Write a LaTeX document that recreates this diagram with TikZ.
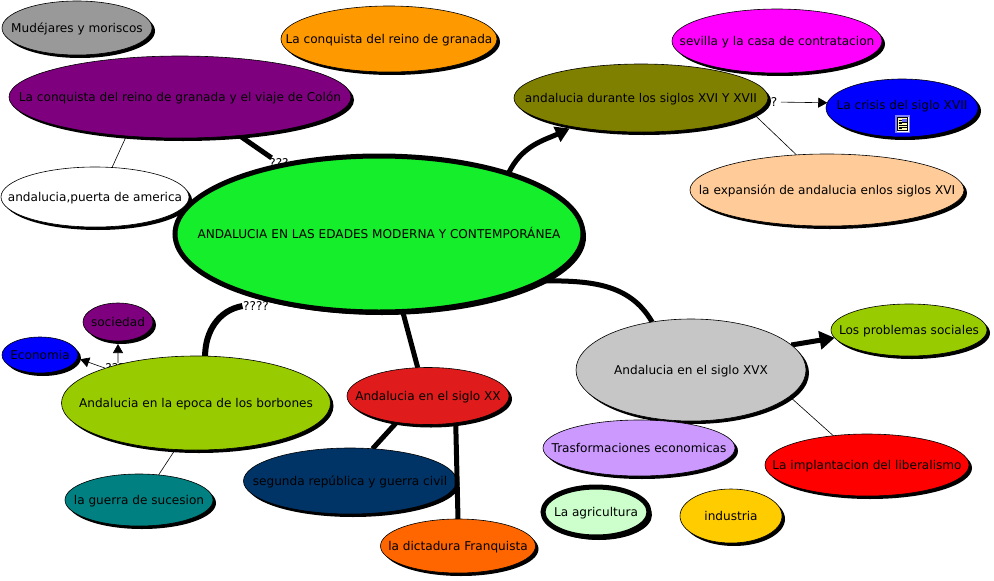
\documentclass[tikz,border=0pt]{standalone}
\usepackage{fontspec}
\setmainfont{DejaVu Sans}
\usetikzlibrary{shapes.geometric, shadows, backgrounds}
\usetikzlibrary{arrows.meta}
\definecolor{verdeC}{HTML}{15EE2A}
\definecolor{morado}{HTML}{7F007F}
\definecolor{oliva}{HTML}{7F7F00}
\definecolor{lima}{HTML}{99CC00}
\definecolor{petroleo}{HTML}{008080}
\definecolor{marino}{HTML}{003366}
\definecolor{salmon}{HTML}{FFCC99}
\definecolor{lila}{HTML}{CC99FF}
\definecolor{menta}{HTML}{CCFFCC}
\definecolor{rojoXX}{HTML}{E01B1B}
\definecolor{naranja}{HTML}{FF9900}
\definecolor{naranjaF}{HTML}{FF6600}
\definecolor{fucsia}{HTML}{FF00FF}
\definecolor{azul}{HTML}{0000FF}
\definecolor{gris}{HTML}{999999}
\definecolor{grisC}{HTML}{C6C6C6}
\definecolor{ambar}{HTML}{FFCC00}
\newcommand{\rotulo}[2][4pt]{\makebox[0pt]{\smash{\raisebox{-#1}{#2}}}}
\tikzset{
  tema/.style={ellipse,draw=black,line width=0.6pt,inner sep=0pt,outer sep=0pt,text=black,font=\fontsize{12.1}{14}\selectfont,
    general shadow={fill=black,shadow xshift=3pt,shadow yshift=-3pt}},
  tam/.style 2 args={minimum width=#1pt,minimum height=#2pt},
  rama/.style={line width=5pt,black},
  fina/.style={line width=0.6pt,black},
  punta/.style={-{Triangle[length=9pt,width=10pt]}},
  puntagrande/.style={-{Triangle[length=15pt,width=18pt]}},
  preg/.style={fill=white,inner sep=0.5pt,font=\fontsize{12.1}{14}\selectfont}
}
\begin{document}
\begin{tikzpicture}[x=1pt,y=-1pt]
\useasboundingbox (0,0) rectangle (994,581);
\node[tema,fill=gris,tam={150}{54}] (mudejares) at (77,28) {\rotulo{Mudéjares y moriscos}};
\node[tema,fill=naranja,tam={216}{66}] (granada) at (389,39) {\rotulo{La conquista del reino de granada}};
\node[tema,fill=morado,tam={342}{82}] (colon) at (180,97) {\rotulo{La conquista del reino de granada y el viaje de Colón}};
\node[tema,fill=white,tam={188}{60}] (america) at (95,197) {\rotulo{andalucia,puerta de america}};
\node[tema,fill=verdeC,line width=5pt,tam={408}{156}] (central) at (379,234) {\rotulo{ANDALUCIA EN LAS EDADES MODERNA Y CONTEMPORÁNEA}};
\node[tema,fill=fucsia,tam={210}{64}] (sevilla) at (777,41) {\rotulo{sevilla y la casa de contratacion}};
\node[tema,fill=oliva,tam={254}{68}] (siglos) at (641,98) {\rotulo{andalucia durante los siglos XVI Y XVII}};
\node[tema,fill=azul,tam={152}{58}] (crisis) at (902,108) {\rotulo[1pt]{La crisis del siglo XVII}};
\node[tema,fill=salmon,tam={274}{72}] (expansion) at (827,190) {\rotulo{la expansión de andalucia enlos siglos XVI}};
\node[tema,fill=morado,tam={70}{38}] (sociedad) at (118,322) {\rotulo{sociedad}};
\node[tema,fill=azul,tam={76}{36}] (economia) at (40,355) {\rotulo{Economia}};
\node[tema,fill=lima,tam={269}{94}] (borbones) at (196,403) {\rotulo{Andalucia en la epoca de los borbones}};
\node[tema,fill=petroleo,tam={148}{52}] (sucesion) at (139,500) {\rotulo{la guerra de sucesion}};
\node[tema,fill=marino,tam={213}{66}] (republica) at (350,481) {\rotulo{segunda república y guerra civil}};
\node[tema,fill=rojoXX,tam={162}{57}] (xx) at (428,396) {\rotulo{Andalucia en el siglo XX}};
\node[tema,fill=naranjaF,tam={155}{54}] (dictadura) at (458,546) {\rotulo{la dictadura Franquista}};
\node[tema,fill=grisC,tam={230}{102}] (xvx) at (691,370) {\rotulo{Andalucia en el siglo XVX}};
\node[tema,fill=lima,tam={156}{52}] (problemas) at (909,330) {\rotulo{Los problemas sociales}};
\node[tema,fill=lila,tam={192}{56}] (trasformaciones) at (639,448) {\rotulo{Trasformaciones economicas}};
\node[tema,fill=red,tam={204}{62}] (liberalismo) at (867,465) {\rotulo{La implantacion del liberalismo}};
\node[tema,fill=menta,line width=5pt,tam={106}{50}] (agricultura) at (596,512) {\rotulo{La agricultura}};
\node[tema,fill=ambar,tam={102}{54}] (industria) at (731,516) {\rotulo{industria}};
\fill[blue!50!white] (895,115) rectangle (910,133);
\fill[white] (896.5,116.5) rectangle (908.5,131.5);
\draw[black,line width=0.6pt,fill=yellow!30] (897.5,117.5) rectangle (907.5,130.5);
\fill[blue!60] (902,118.5) rectangle (906.5,122.5);
\foreach \y in {120.5,123,125.5,128}
  \draw[black,line width=0.6pt] (898.5,\y) -- (901.5,\y) (898.5,\y+2) -- (906.5,\y+2);
\draw[rama] (xx.-44) -- (dictadura.north);
\begin{pgfonlayer}{background}
\fill[white] (0,0) rectangle (994,581);
\node[preg] (q1) at (279,163) {???};
\node[preg] (q2) at (256,306) {????};
\node[preg] (q3) at (774,102) {?};
\node[preg] (q4) at (115,368) {???};
\draw[rama] (colon.-33) -- (q1);
\draw[rama,line width=6pt] (q2.west) to[out=190,in=90] (borbones.79);
\draw[rama,-{Triangle[length=14pt,width=16pt]},shorten >=4pt] (central.25) to[out=65,in=205] (siglos.203);
\draw[rama] (central.-16) to[out=0,in=120] (xvx.129);
\draw[rama] (central.-73) -- (xx.110);
\draw[rama] (xx.-140) -- (republica.55);
\draw[rama,puntagrande] (xvx.14) -- (problemas.186);
\draw[fina] (colon.216) -- (america.60);
\draw[fina] (siglos.-8) -- (expansion.131);
\draw[fina] (xvx.-15) -- (liberalismo.139);
\draw[fina] (borbones.-114) -- (sucesion.52);
\draw[fina,punta,shorten <=3pt] (q3) -- (crisis.176);
\draw[fina,punta,shorten >=3pt] (q4.60) -- (sociedad.south);
\draw[fina,punta,shorten >=3pt] (q4.west) -- (economia.-5);
\end{pgfonlayer}
\end{tikzpicture}
\end{document}
